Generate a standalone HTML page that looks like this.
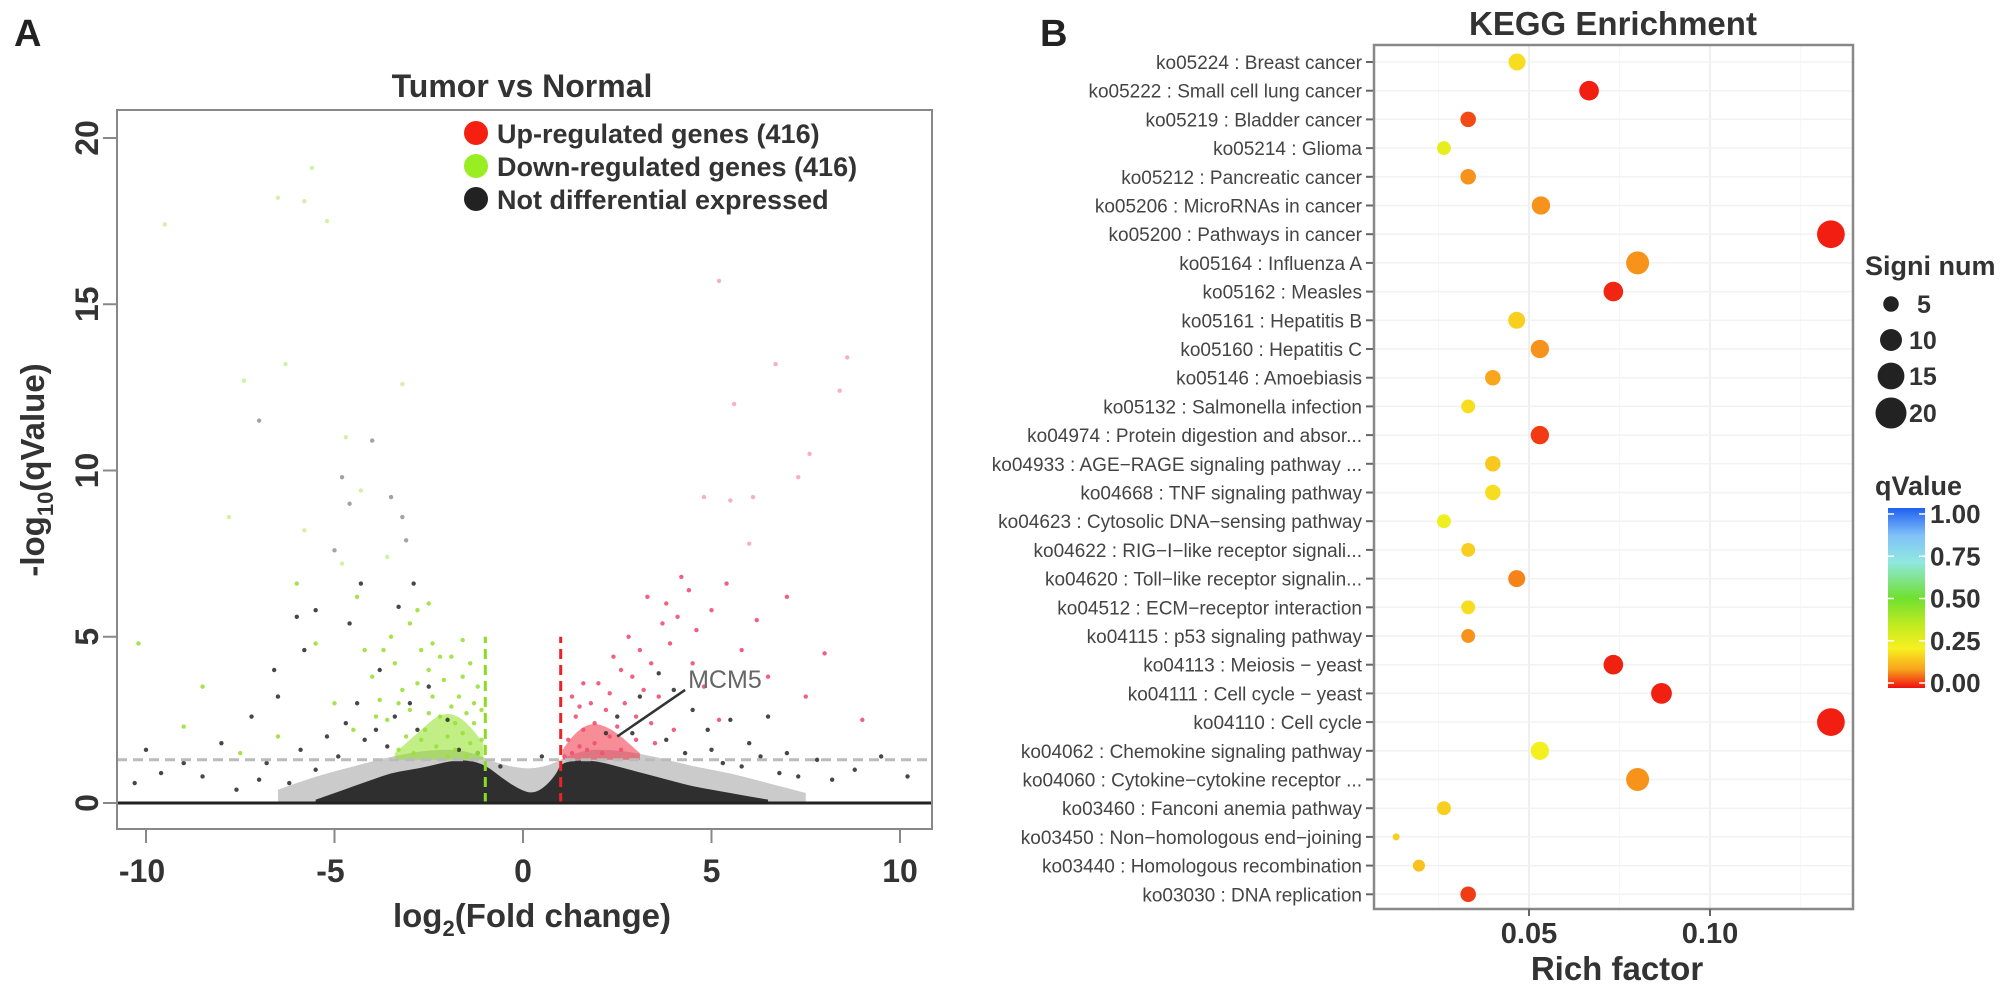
<!DOCTYPE html>
<html><head><meta charset="utf-8"><style>
html,body{margin:0;padding:0;background:#fff;}
svg{display:block;font-family:"Liberation Sans",Arial,sans-serif;}
</style></head><body>
<svg id="fig" width="2008" height="994" viewBox="0 0 2008 994" xmlns="http://www.w3.org/2000/svg">
<defs>
<linearGradient id="qgrad" x1="0" y1="1" x2="0" y2="0">
<stop offset="0" stop-color="#f01010"/><stop offset="0.1" stop-color="#f8a01c"/><stop offset="0.22" stop-color="#f8f020"/><stop offset="0.35" stop-color="#c0ea20"/><stop offset="0.5" stop-color="#70e030"/><stop offset="0.7" stop-color="#90e8e0"/><stop offset="0.85" stop-color="#80c0f8"/><stop offset="1" stop-color="#2060f0"/>
</linearGradient>
</defs>
<g id="panelA"></g>
<g id="panelB"></g>
</svg>
<script>
// ===== Panel A data =====
const volXTicks = [-10, -5, 0, 5, 10];
const volYTicks = [0, 5, 10, 15, 20];
const qThreshold = 1.3;
const fcThreshold = 1;
const denseX   = [-5.5,-5,-4.5,-4,-3.5,-3,-2.5,-2,-1.5,-1,-0.5,0,0.3,0.6,0.9,1.0,1.5,2,2.5,3,3.5,4,4.5,5,5.5,6,6.5];
const denseTop = [0.1,0.3,0.5,0.7,0.9,1.0,1.1,1.25,1.3,1.15,0.7,0.35,0.3,0.5,0.9,1.2,1.3,1.25,1.1,0.95,0.8,0.65,0.5,0.4,0.3,0.2,0.1];
const fuzzX   = [-6.5,-5.5,-4.5,-3.5,-2.5,-1.5,-0.5,0.5,1.5,2.5,3.5,4.5,5.5,6.5,7.5];
const fuzzTop = [0.4,0.8,1.1,1.4,1.6,1.6,1.1,1.0,1.6,1.6,1.4,1.1,0.9,0.6,0.3];
const redDenseX = [1.05,1.3,1.6,1.9,2.2,2.5,2.8,3.1];
const redDenseTop = [1.6,2.0,2.3,2.4,2.3,2.1,1.8,1.5];
const greenDenseX = [-3.4,-3.0,-2.6,-2.3,-2.0,-1.7,-1.4,-1.05];
const greenDenseTop = [1.5,1.9,2.3,2.6,2.7,2.6,2.3,1.8];
const greenPts = [[-1.2,1.5],[-1.4,1.8],[-1.6,2.1],[-1.3,2.4],[-1.8,1.6],[-2.0,2.0],[-2.2,2.6],[-1.9,2.9],[-2.4,3.2],[-2.6,2.2],[-2.8,3.6],[-2.5,4.0],[-3.0,2.8],[-3.2,3.4],[-3.4,4.2],[-2.1,3.7],[-1.7,3.2],[-1.5,2.7],[-1.1,1.9],[-1.3,3.0],[-2.3,1.7],[-2.7,1.9],[-3.1,2.0],[-3.6,2.5],[-3.8,3.1],[-4.0,3.8],[-3.5,5.0],[-3.0,5.4],[-2.8,5.8],[-4.2,4.6],[-4.4,6.2],[-2.4,4.8],[-1.9,4.4],[-1.6,3.8],[-2.0,1.4],[-1.5,1.4],[-2.9,1.5],[-3.3,1.6],[-4.5,2.2],[-5.0,3.0],[-5.5,4.8],[-6.0,6.6],[-4.8,7.2],[-5.8,8.2],[-4.3,9.4],[-4.7,11.0],[-5.2,17.5],[-6.5,18.2],[-5.8,18.1],[-9.5,17.4],[-7.4,12.7],[-6.3,13.2],[-7.8,8.6],[-10.2,4.8],[-8.5,3.5],[-9.0,2.3],[-7.5,1.5],[-6.5,2.0],[-3.2,12.6],[-5.6,19.1],[-2.5,6.0],[-3.6,7.4],[-1.2,3.5],[-1.4,4.2],[-2.2,4.4],[-2.7,4.6],[-3.3,3.0],[-3.9,2.6],[-1.8,2.4],[-2.5,2.7],[-1.1,2.8],[-3.7,4.6],[-1.6,4.9]];
const redPts = [[1.3,1.5],[1.5,1.7],[1.7,1.6],[1.9,1.8],[2.1,1.5],[2.3,2.0],[1.6,2.2],[1.4,2.6],[1.9,2.4],[2.2,2.8],[2.5,2.3],[2.7,3.0],[3.0,2.6],[3.2,3.4],[2.9,3.8],[3.4,4.2],[3.6,3.2],[3.9,4.8],[4.1,5.6],[4.4,6.4],[4.2,6.8],[3.8,6.0],[3.3,6.2],[2.8,5.0],[2.4,4.4],[2.0,3.6],[1.8,3.0],[1.2,1.9],[1.1,1.4],[4.6,5.2],[5.0,5.8],[5.4,6.6],[5.8,4.6],[6.2,5.5],[6.5,3.8],[7.0,6.2],[4.8,3.5],[5.2,2.5],[3.5,1.8],[4.0,2.2],[5.6,12.0],[5.2,15.7],[6.7,13.2],[8.4,12.4],[8.6,13.4],[7.6,10.5],[7.3,9.8],[5.5,9.1],[6.1,9.2],[4.8,9.2],[6.0,7.8],[7.5,3.2],[8.0,4.5],[9.0,2.5],[2.6,1.6],[3.0,1.9],[1.3,3.2],[1.6,3.6],[2.3,3.3],[3.1,4.6],[3.7,5.4],[4.5,4.2],[2.6,4.0],[1.5,2.9],[3.4,2.4]];
const blackPts = [[-6.6,4.0],[-6.0,5.6],[-5.5,5.8],[-4.8,9.8],[-4.6,9.0],[-4.0,10.9],[-3.2,8.6],[-3.5,9.2],[-7.0,11.5],[-5.0,7.6],[-4.3,6.6],[-3.8,4.0],[-3.0,3.0],[-2.5,3.5],[-2.0,2.5],[-4.6,5.4],[-5.8,4.6],[-6.5,3.2],[-7.2,2.6],[-8.0,1.8],[-9.0,1.2],[-10.0,1.6],[-10.3,0.6],[-8.5,0.8],[-7.6,0.4],[-6.8,1.2],[-5.2,2.0],[-4.4,3.0],[-3.9,2.2],[-3.4,2.6],[-1.2,1.5],[-0.6,1.1],[0.5,1.4],[-2.9,6.6],[-3.1,7.9],[-3.3,5.9],[2.5,2.6],[3.1,3.2],[4.0,3.4],[4.5,2.8],[5.5,2.5],[6.0,1.8],[7.0,1.5],[7.8,1.3],[8.2,0.7],[9.5,1.4],[10.2,0.8],[6.5,2.6],[3.6,3.9],[2.2,2.1],[5.0,1.6],[-1.7,1.6],[4.3,1.5],[-5.5,1.0],[-4.9,1.4],[6.8,0.9],[5.8,1.1],[-6.2,0.6],[-4.2,1.9],[-3.6,1.7],[-2.8,2.2],[-5.9,1.6],[-4.7,2.4],[2.9,2.1],[3.8,1.9],[4.9,2.2],[6.3,1.4],[7.3,0.8],[-7.0,0.7],[-9.6,0.9],[8.8,1.0],[5.3,1.2]];
const mcmPoint = [2.5, 2.0];
const mcmLabelPos = [4.3, 3.4];

// ===== Panel B data =====
const pathways = ["ko05224 : Breast cancer","ko05222 : Small cell lung cancer","ko05219 : Bladder cancer","ko05214 : Glioma","ko05212 : Pancreatic cancer","ko05206 : MicroRNAs in cancer","ko05200 : Pathways in cancer","ko05164 : Influenza A","ko05162 : Measles","ko05161 : Hepatitis B","ko05160 : Hepatitis C","ko05146 : Amoebiasis","ko05132 : Salmonella infection","ko04974 : Protein digestion and absor...","ko04933 : AGE\u2212RAGE signaling pathway ...","ko04668 : TNF signaling pathway","ko04623 : Cytosolic DNA\u2212sensing pathway","ko04622 : RIG\u2212I\u2212like receptor signali...","ko04620 : Toll\u2212like receptor signalin...","ko04512 : ECM\u2212receptor interaction","ko04115 : p53 signaling pathway","ko04113 : Meiosis \u2212 yeast","ko04111 : Cell cycle \u2212 yeast","ko04110 : Cell cycle","ko04062 : Chemokine signaling pathway","ko04060 : Cytokine\u2212cytokine receptor ...","ko03460 : Fanconi anemia pathway","ko03450 : Non\u2212homologous end\u2212joining","ko03440 : Homologous recombination","ko03030 : DNA replication"];
const richFactor = [0.0467,0.0666,0.0332,0.0265,0.0332,0.0533,0.1334,0.0800,0.0733,0.0466,0.0530,0.0400,0.0332,0.0530,0.0400,0.0400,0.0265,0.0332,0.0466,0.0332,0.0332,0.0733,0.0866,0.1334,0.0530,0.0800,0.0265,0.0133,0.0196,0.0332];
const signiNum = [6,8,5,4,5,7,16,11,8,6,7,5,4,7,5,5,4,4,6,4,4,8,9,16,7,11,4,1,3,5];
const qValue = [0.19,0.01,0.04,0.26,0.09,0.09,0.01,0.09,0.015,0.17,0.09,0.11,0.19,0.03,0.16,0.19,0.24,0.17,0.08,0.19,0.09,0.012,0.012,0.01,0.23,0.09,0.17,0.17,0.15,0.03];
const richTicks = [0.05, 0.10];
const richTickLabels = ["0.05", "0.10"];
const sizeLegend = [5, 10, 15, 20];
const qLegend = [0, 0.25, 0.5, 0.75, 1];
const qLegendLabels = ["0.00","0.25","0.50","0.75","1.00"];

const NS = "http://www.w3.org/2000/svg";
function mk(tag, attrs, parent, txt){
  const e = document.createElementNS(NS, tag);
  for (const k in attrs) e.setAttribute(k, attrs[k]);
  if (txt !== undefined) e.textContent = txt;
  parent.appendChild(e);
  return e;
}
const A = document.getElementById('panelA');
const B = document.getElementById('panelB');

// ---------- Panel A ----------
const ax = v => 523 + v * 37.7;
const ay = v => 803 - v * 33.25;
const AL = 117, AT = 110, AR = 932, AB = 829;

let t = mk('text', {x: 14, y: 46, 'font-size': 38, 'font-weight': 'bold', fill: '#222'}, A, 'A');


t = mk('text', {x: 522, y: 97, 'font-size': 32, 'font-weight': 'bold', fill: '#333', 'text-anchor': 'middle'}, A, 'Tumor vs Normal');



const clipA = mk('clipPath', {id: 'clipA'}, A);
mk('rect', {x: AL, y: AT, width: AR - AL, height: AB - AT}, clipA);
const plotA = mk('g', {'clip-path': 'url(#clipA)'}, A);



function smoothPath(xs, tops, base){
  let d = 'M' + ax(xs[0]) + ',' + ay(base);
  d += ' L' + ax(xs[0]) + ',' + ay(tops[0]);
  for (let i = 1; i < xs.length; i++) {
    const mx = (ax(xs[i-1]) + ax(xs[i])) / 2;
    d += ' Q' + ax(xs[i-1]) + ',' + ay(tops[i-1]) + ' ' + mx + ',' + (ay(tops[i-1]) + ay(tops[i])) / 2;
  }
  d += ' L' + ax(xs[xs.length - 1]) + ',' + ay(tops[xs.length - 1]);
  d += ' L' + ax(xs[xs.length - 1]) + ',' + ay(base) + ' Z';
  return d;
}
function poly(xs, tops, base, fill, op, name){
  const p = mk('path', {d: smoothPath(xs, tops, base), fill: fill, 'fill-opacity': op}, plotA);
  
  
}
poly(fuzzX, fuzzTop, 0, '#444', 0.28, 'not-differential-sparse-cloud');
poly(denseX, denseTop, 0, '#222', 0.92, 'not-differential-dense-cloud');
poly(redDenseX, redDenseTop, qThreshold, '#f03040', 0.55, 'up-regulated-dense-cloud');
poly(greenDenseX, greenDenseTop, qThreshold, '#8ee020', 0.55, 'down-regulated-dense-cloud');

function pts(arr, color, name){
  const g = mk('g', {}, plotA);
  
  
  arr.forEach(p => {
    const faint = p[1] > 7 ? 0.45 : 0.9;
    const c = mk('circle', {cx: ax(p[0]), cy: ay(p[1]), r: 2.2, fill: color, 'fill-opacity': faint}, g);
    
    
  });
}
pts(blackPts, '#333', 'not-differential-points');
pts(greenPts, '#9ae03a', 'down-regulated-points');
pts(redPts, '#f05070', 'up-regulated-points');

let l = mk('line', {x1: AL, x2: AR, y1: ay(qThreshold), y2: ay(qThreshold), stroke: '#bbb', 'stroke-width': 3, 'stroke-dasharray': '10 6'}, plotA);


l = mk('line', {x1: ax(-fcThreshold), x2: ax(-fcThreshold), y1: ay(0), y2: ay(5), stroke: '#88dd22', 'stroke-width': 3, 'stroke-dasharray': '10 6'}, plotA);


l = mk('line', {x1: ax(fcThreshold), x2: ax(fcThreshold), y1: ay(0), y2: ay(5), stroke: '#ee2222', 'stroke-width': 3, 'stroke-dasharray': '10 6'}, plotA);


l = mk('line', {x1: AL, x2: AR, y1: ay(0), y2: ay(0), stroke: '#222', 'stroke-width': 3}, plotA);



l = mk('line', {x1: ax(mcmPoint[0]), y1: ay(mcmPoint[1]), x2: ax(mcmLabelPos[0]), y2: ay(mcmLabelPos[1]), stroke: '#333', 'stroke-width': 2.5}, A);


t = mk('text', {x: ax(mcmLabelPos[0]) + 3, y: ay(mcmLabelPos[1]) - 2, 'font-size': 25, fill: '#666'}, A, 'MCM5');



let r = mk('rect', {x: AL, y: AT, width: AR - AL, height: AB - AT, fill: 'none', stroke: '#888', 'stroke-width': 2}, A);



volXTicks.forEach(v => {
  const tk = mk('line', {x1: ax(v), x2: ax(v), y1: AB, y2: AB + 14, stroke: '#888', 'stroke-width': 2}, A);
  
  
  const tl = mk('text', {x: ax(v) - (v < 0 ? 4 : 0), y: 882, 'font-size': 32, 'font-weight': 'bold', fill: '#333', 'text-anchor': 'middle'}, A, String(v));
  
  
});
volYTicks.forEach(v => {
  const tk = mk('line', {x1: AL - 14, x2: AL, y1: ay(v), y2: ay(v), stroke: '#888', 'stroke-width': 2}, A);
  
  
  const tl = mk('text', {x: 98, y: ay(v), 'font-size': 32, 'font-weight': 'bold', fill: '#333', 'text-anchor': 'middle', transform: 'rotate(-90 98 ' + ay(v) + ')'}, A, String(v));
  
  
});
t = mk('text', {x: 532, y: 927, 'font-size': 33, 'font-weight': 'bold', fill: '#333', 'text-anchor': 'middle'}, A);


mk('tspan', {}, t, 'log');
mk('tspan', {'font-size': 22, dy: 9}, t, '2');
mk('tspan', {dy: -9}, t, '(Fold change)');
t = mk('text', {x: 44, y: 470, 'font-size': 33, 'font-weight': 'bold', fill: '#333', 'text-anchor': 'middle', transform: 'rotate(-90 44 470)'}, A);


mk('tspan', {}, t, '-log');
mk('tspan', {'font-size': 22, dy: 9}, t, '10');
mk('tspan', {dy: -9}, t, '(qValue)');

const legA = [['#f52010', 'Up-regulated genes (416)'], ['#99ee22', 'Down-regulated genes (416)'], ['#222', 'Not differential expressed']];
const legY = [133, 166, 199];
legA.forEach((e, i) => {
  const g = mk('g', {}, A);
  
  
  mk('circle', {cx: 476, cy: legY[i], r: 12, fill: e[0]}, g);
  mk('text', {x: 497, y: legY[i] + 10, 'font-size': 27, 'font-weight': 'bold', fill: '#333'}, g, e[1]);
});

// ---------- Panel B ----------
const bx = v => 1529 + (v - 0.05) * 3620;
const by = i => 62 + i * 28.7;
const BL = 1374, BT = 45, BR = 1853, BB = 909;
const rad = n => Math.sqrt(0.25 + 12 * n);
function qColor(q){
  const st = [[0,[240,16,16]],[0.1,[248,160,28]],[0.22,[248,240,32]],[0.35,[192,234,32]],[0.5,[112,224,48]],[0.7,[144,232,224]],[0.85,[128,192,248]],[1,[32,96,240]]];
  for (let i = 1; i < st.length; i++) {
    if (q <= st[i][0]) {
      const f = (q - st[i-1][0]) / (st[i][0] - st[i-1][0]);
      const c = st[i-1][1].map((a, k) => Math.round(a + (st[i][1][k] - a) * f));
      return 'rgb(' + c.join(',') + ')';
    }
  }
  return 'rgb(32,96,240)';
}

t = mk('text', {x: 1040, y: 46, 'font-size': 38, 'font-weight': 'bold', fill: '#222'}, B, 'B');


t = mk('text', {x: 1613, y: 35, 'font-size': 33, 'font-weight': 'bold', fill: '#333', 'text-anchor': 'middle'}, B, 'KEGG Enrichment');



const grid = mk('g', {}, B);


[0.025, 0.075, 0.125].forEach(v => mk('line', {x1: bx(v), x2: bx(v), y1: BT, y2: BB, stroke: '#f7f7f7', 'stroke-width': 1}, grid));
richTicks.forEach(v => mk('line', {x1: bx(v), x2: bx(v), y1: BT, y2: BB, stroke: '#efefef', 'stroke-width': 2}, grid));
pathways.forEach((p, i) => mk('line', {x1: BL, x2: BR, y1: by(i), y2: by(i), stroke: '#f2f2f2', 'stroke-width': 1.5}, grid));

const dots = mk('g', {}, B);


pathways.forEach((p, i) => {
  const c = mk('circle', {cx: bx(richFactor[i]), cy: by(i), r: rad(signiNum[i]), fill: qColor(qValue[i])}, dots);
  
  
  const tl = mk('text', {x: 1362, y: by(i) + 7, 'font-size': 19, fill: '#444', 'text-anchor': 'end'}, B, p);
  
  
  const tk = mk('line', {x1: 1366, x2: BL, y1: by(i), y2: by(i), stroke: '#666', 'stroke-width': 2}, B);
  
  
});
r = mk('rect', {x: BL, y: BT, width: BR - BL, height: BB - BT, fill: 'none', stroke: '#888', 'stroke-width': 2.5}, B);


richTicks.forEach((v, i) => {
  const tk = mk('line', {x1: bx(v), x2: bx(v), y1: BB, y2: BB + 7, stroke: '#666', 'stroke-width': 2}, B);
  
  
  const tl = mk('text', {x: bx(v), y: 943, 'font-size': 29, 'font-weight': 'bold', fill: '#333', 'text-anchor': 'middle'}, B, richTickLabels[i]);
  
  
});
t = mk('text', {x: 1617, y: 980, 'font-size': 33, 'font-weight': 'bold', fill: '#333', 'text-anchor': 'middle'}, B, 'Rich factor');



// size legend
t = mk('text', {x: 1865, y: 275, 'font-size': 27, 'font-weight': 'bold', fill: '#333'}, B, 'Signi num');


const sizeY = [304, 340, 376, 413];
sizeLegend.forEach((n, i) => {
  const g = mk('g', {}, B);
  
  
  mk('circle', {cx: 1891, cy: sizeY[i], r: rad(n), fill: '#222'}, g);
  mk('text', {x: 1909 + (n < 10 ? 8 : 0), y: sizeY[i] + 9, 'font-size': 25, 'font-weight': 'bold', fill: '#333'}, g, String(n));
});
// colour legend
t = mk('text', {x: 1875, y: 495, 'font-size': 27, 'font-weight': 'bold', fill: '#333'}, B, 'qValue');


r = mk('rect', {x: 1888, y: 508, width: 37, height: 180, fill: 'url(#qgrad)'}, B);


const cy = q => 683 - q * 169;
qLegend.forEach((q, i) => {
  const tk = mk('g', {}, B);
  
  
  mk('line', {x1: 1888, x2: 1894, y1: cy(q), y2: cy(q), stroke: '#fff', 'stroke-width': 1.5}, tk);
  mk('line', {x1: 1919, x2: 1925, y1: cy(q), y2: cy(q), stroke: '#fff', 'stroke-width': 1.5}, tk);
  const tl = mk('text', {x: 1930, y: cy(q) + 9, 'font-size': 26, 'font-weight': 'bold', fill: '#333'}, B, qLegendLabels[i]);
  
  
});
</script>
</body></html>
